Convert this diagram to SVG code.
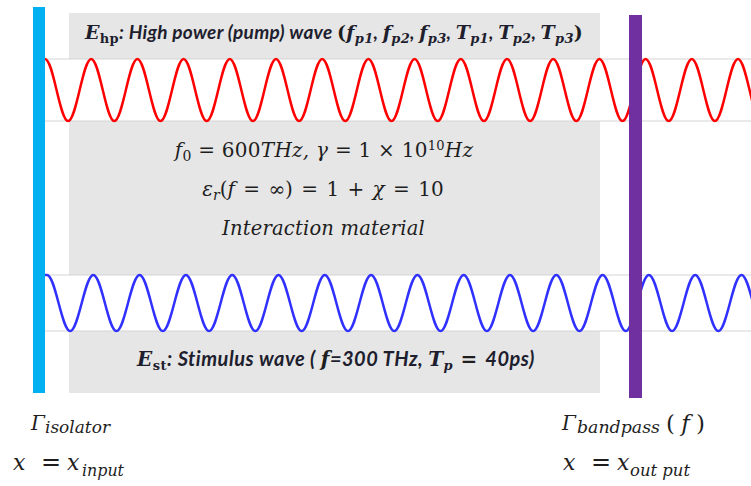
<svg xmlns="http://www.w3.org/2000/svg" width="751" height="486" viewBox="0 0 751 486">
<style>
.grid{stroke:#d4d4d4;stroke-width:1}
.wave{fill:none;stroke-width:2.5;stroke-linejoin:round}
.m{font-family:"DejaVu Serif","Liberation Serif",serif;font-style:italic;fill:#1e1e1e}
.up{font-style:normal}
.lbl{font-family:Lato,"Liberation Sans",sans-serif;font-weight:bold;font-style:italic;fill:#1e1e2e}
.mb{font-family:"DejaVu Serif","Liberation Serif",serif;font-weight:bold;font-style:italic}
.sb{font-family:"DejaVu Serif","Liberation Serif",serif;font-weight:bold;font-style:normal;font-size:13px}
.si{font-family:"DejaVu Serif","Liberation Serif",serif;font-weight:bold;font-style:italic;font-size:13px}
</style>
<g id="background">
<rect x="69" y="13" width="531" height="380" fill="#e6e6e6"/>
<rect x="45" y="59" width="706" height="62" fill="#ffffff"/>
<rect x="45" y="275" width="706" height="56" fill="#ffffff"/>
<line class="grid" x1="45" y1="59" x2="751" y2="59"/>
<line class="grid" x1="45" y1="121" x2="751" y2="121"/>
<line class="grid" x1="45" y1="275" x2="751" y2="275"/>
<line class="grid" x1="45" y1="331" x2="751" y2="331"/>
</g>
<g id="pump-wave">
<path class="wave" stroke="#ff0000" d="M45,59 c8.39,0 14.71,62 23.1,62 s14.71,-62 23.1,-62 s14.71,62 23.1,62 s14.71,-62 23.1,-62 s14.71,62 23.1,62 s14.71,-62 23.1,-62 s14.71,62 23.1,62 s14.71,-62 23.1,-62 s14.71,62 23.1,62 s14.71,-62 23.1,-62 s14.71,62 23.1,62 s14.71,-62 23.1,-62 s14.71,62 23.1,62 s14.71,-62 23.1,-62 s14.71,62 23.1,62 s14.71,-62 23.1,-62 s14.71,62 23.1,62 s14.71,-62 23.1,-62 s14.71,62 23.1,62 s14.71,-62 23.1,-62 s14.71,62 23.1,62 s14.71,-62 23.1,-62 s14.71,62 23.1,62 s14.71,-62 23.1,-62 s14.71,62 23.1,62 s14.71,-62 23.1,-62 s14.71,62 23.1,62 s14.71,-62 23.1,-62 s14.71,62 23.1,62 s14.71,-62 23.1,-62 s14.71,62 23.1,62"/>
</g>
<g id="stimulus-wave">
<path class="wave" stroke="#3030ff" d="M45,275 L47,275 c8.41,0 14.74,56 23.15,56 s14.74,-56 23.15,-56 s14.74,56 23.15,56 s14.74,-56 23.15,-56 s14.74,56 23.15,56 s14.74,-56 23.15,-56 s14.74,56 23.15,56 s14.74,-56 23.15,-56 s14.74,56 23.15,56 s14.74,-56 23.15,-56 s14.74,56 23.15,56 s14.74,-56 23.15,-56 s14.74,56 23.15,56 s14.74,-56 23.15,-56 s14.74,56 23.15,56 s14.74,-56 23.15,-56 s14.74,56 23.15,56 s14.74,-56 23.15,-56 s14.74,56 23.15,56 s14.74,-56 23.15,-56 s14.74,56 23.15,56 s14.74,-56 23.15,-56 s14.74,56 23.15,56 s14.74,-56 23.15,-56 s14.74,56 23.15,56 s14.74,-56 23.15,-56 s14.74,56 23.15,56 s14.74,-56 23.15,-56 s14.74,56 23.15,56 s14.74,-56 23.15,-56 s14.74,56 23.15,56"/>
</g>
<g id="isolator">
<rect x="33" y="7" width="12" height="386" fill="#00b0f0"/>
</g>
<g id="bandpass">
<rect x="629" y="15" width="13" height="383" fill="#7030a0"/>
</g>
<g id="pump-label">
<text class="lbl" x="85" y="39" font-size="19" letter-spacing="0.3"><tspan class="mb">E</tspan><tspan class="sb" dy="4">hp</tspan><tspan dy="-4">: High power (pump) wave </tspan><tspan class="m up">(</tspan><tspan class="mb">f</tspan><tspan class="si" dy="4">p1</tspan><tspan dy="-4">, </tspan><tspan class="mb">f</tspan><tspan class="si" dy="4">p2</tspan><tspan dy="-4">, </tspan><tspan class="mb">f</tspan><tspan class="si" dy="4">p3</tspan><tspan dy="-4">, </tspan><tspan class="mb">T</tspan><tspan class="si" dy="4">p1</tspan><tspan dy="-4">, </tspan><tspan class="mb">T</tspan><tspan class="si" dy="4">p2</tspan><tspan dy="-4">, </tspan><tspan class="mb">T</tspan><tspan class="si" dy="4">p3</tspan><tspan class="m up" dy="-4">)</tspan></text>
</g>
<g id="material">
<text class="m" x="324" y="157" font-size="20" letter-spacing="0.25" text-anchor="middle">f<tspan class="up" font-size="14" dy="4">0</tspan><tspan class="up" dy="-4"> = 600</tspan>THz,  γ <tspan class="up">= 1 × 10</tspan><tspan class="up" font-size="13" dy="-7">10</tspan><tspan dy="7">Hz</tspan></text>
<text class="m" x="323" y="196" font-size="20" word-spacing="2" text-anchor="middle">ε<tspan font-size="14" dy="4">r</tspan><tspan class="up" dy="-4">(</tspan>f <tspan class="up">= ∞) = 1 + </tspan>χ <tspan class="up">= 10</tspan></text>
<text class="m" x="323.5" y="235" font-size="19.5" letter-spacing="0.2" text-anchor="middle">Interaction material</text>
</g>
<g id="stimulus-label">
<text class="lbl" x="137" y="366" font-size="20" letter-spacing="0.5"><tspan class="mb">E</tspan><tspan class="sb" dy="4">st</tspan><tspan dy="-4">: Stimulus wave ( </tspan><tspan class="m">f</tspan><tspan>=300 THz, </tspan><tspan class="mb">T</tspan><tspan class="si" dy="4">p</tspan><tspan class="m up" dy="-4"> = </tspan><tspan>40ps)</tspan></text>
</g>
<g id="input-labels">
<text class="m" x="31" y="430" font-size="20">Γ</text>
<text class="m" x="45" y="433" font-size="17" textLength="65" lengthAdjust="spacingAndGlyphs">isolator</text>
<text class="m" x="13" y="470" font-size="22">x</text>
<text class="m up" x="41" y="470" font-size="24">=</text>
<text class="m" x="67" y="470" font-size="22">x</text>
<text class="m" x="82" y="476" font-size="17" textLength="42" lengthAdjust="spacingAndGlyphs">input</text>
</g>
<g id="output-labels">
<text class="m" x="562" y="430" font-size="20">Γ</text>
<text class="m" x="577" y="433" font-size="17" textLength="83" lengthAdjust="spacingAndGlyphs">bandpass</text>
<text class="m" x="666" y="431" font-size="23" textLength="39" lengthAdjust="spacing"><tspan class="up">(</tspan>f<tspan class="up">)</tspan></text>
<text class="m" x="563" y="470" font-size="22">x</text>
<text class="m up" x="591" y="470" font-size="24">=</text>
<text class="m" x="617" y="470" font-size="22">x</text>
<text class="m" x="630" y="476" font-size="17" textLength="60" lengthAdjust="spacingAndGlyphs">out put</text>
</g>
</svg>
